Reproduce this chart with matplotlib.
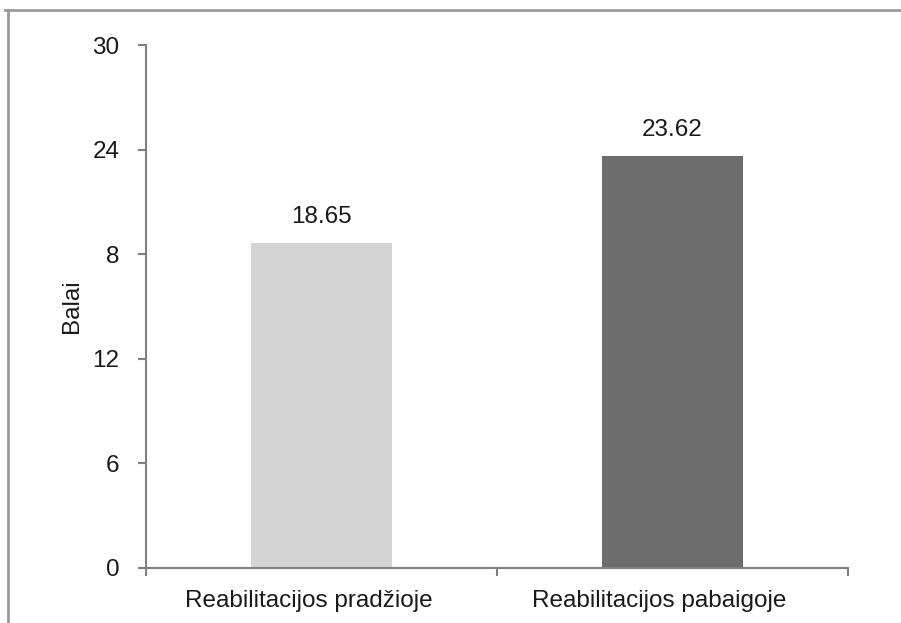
import matplotlib
matplotlib.use("Agg")
import matplotlib.pyplot as plt
from matplotlib.lines import Line2D
from matplotlib.transforms import ScaledTranslation

categories = ["Reabilitacijos pradžioje", "Reabilitacijos pabaigoje"]
values = [18.65, 23.62]
value_labels = ["18.65", "23.62"]
ytick_values = [0, 6, 12, 18, 24, 30]
ytick_labels = ["0", "6", "12", "8", "24", "30"]
ylabel = "Balai"

plt.rcParams['font.family'] = ['Liberation Sans', 'DejaVu Sans']
FS = 17.5
TC = "#1a1a1a"

fig = plt.figure(figsize=(9.01, 6.23), dpi=100)
ax = fig.add_axes([146/901, 1-568/623, (848-146)/901, (568-45)/623])

colors = ["#d4d4d4", "#6d6d6d"]
x = list(range(len(categories)))
ax.bar(x, values, width=0.4, color=colors)

for xi, v, lab in zip(x, values, value_labels):
    ax.annotate(lab, (xi, v), xytext=(0, 15), textcoords="offset pixels",
                ha="center", va="bottom", fontsize=FS, color=TC)

ax.set_xlim(-0.5, 1.5)
ax.set_ylim(0, 30)
ax.set_yticks(ytick_values)
ax.set_yticklabels(ytick_labels)
ax.set_xticks([-0.5, 0.5, 1.5], minor=False)
ax.set_xticklabels([])
ax.set_xticks(x, minor=True)
ax.set_xticklabels(categories, minor=True)
ax.tick_params(axis="x", which="minor", length=0, labelsize=FS, pad=16, labelcolor=TC)
ax.tick_params(axis="x", which="major", length=6, width=1.5, color="#808080", direction="out")
ax.tick_params(axis="y", length=6, width=1.5, color="#808080", labelsize=FS, pad=13, labelcolor=TC)

shift = ScaledTranslation(-13/100, 0, fig.dpi_scale_trans)
for lbl in ax.get_xticklabels(minor=True):
    lbl.set_transform(lbl.get_transform() + shift)

for s in ["top", "right"]:
    ax.spines[s].set_visible(False)
for s in ["left", "bottom"]:
    ax.spines[s].set_color("#808080")
    ax.spines[s].set_linewidth(1.5)

ax.set_ylabel(ylabel, fontsize=FS, color=TC)
ax.yaxis.set_label_coords(-(146-83)/702, 0.5)

# image border (top and left)
fig.add_artist(Line2D([5/901, 1], [1-10/623, 1-10/623], transform=fig.transFigure, color="#9a9a9a", lw=2))
fig.add_artist(Line2D([8/901, 8/901], [0, 1-10/623], transform=fig.transFigure, color="#9a9a9a", lw=2))

fig.savefig("out.png", dpi=100)
